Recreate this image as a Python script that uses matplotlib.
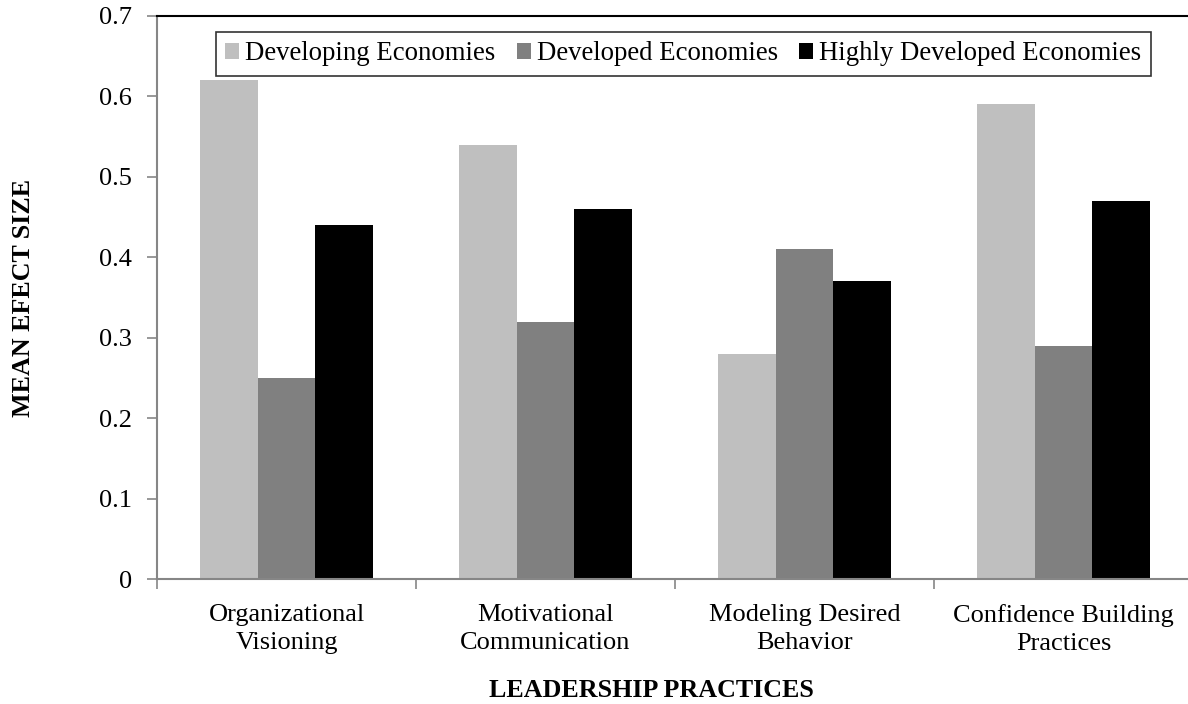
"""
Mean effect size of leadership practices by economy group.
"""

import matplotlib.pyplot as plt
import numpy as np
from matplotlib.ticker import FixedLocator, FuncFormatter, MultipleLocator

practices = [
    "Organizational\nVisioning",
    "Motivational\nCommunication",
    "Modeling Desired\nBehavior",
    "Confidence Building\nPractices",
]
series_names = [
    "Developing Economies",
    "Developed Economies",
    "Highly Developed Economies",
]
developing = [0.62, 0.54, 0.28, 0.59]
developed = [0.25, 0.32, 0.41, 0.29]
highly_developed = [0.44, 0.46, 0.37, 0.47]

colors = ["#BFBFBF", "#808080", "#000000"]
plt.rcParams["font.family"] = ["Liberation Serif", "DejaVu Serif"]

W, H = 1188, 704
fig = plt.figure(figsize=(W / 100, H / 100), dpi=100)
# plot area runs a little past the right edge of the picture, as in the original
left, right, top, bottom = 157, 1193, 16, 579
pw, ph = right - left, bottom - top
ax = fig.add_axes([left / W, 1 - bottom / H, pw / W, ph / H])

x = np.arange(len(practices))
width = 0.223
for i, (vals, name) in enumerate(zip([developing, developed, highly_developed], series_names)):
    ax.bar(x + (i - 1) * width, vals, width=width, color=colors[i], label=name, zorder=2)

ax.set_xlim(-0.5, len(practices) - 0.5)
ax.set_ylim(0, 0.7)
ax.yaxis.set_major_locator(MultipleLocator(0.1))
ax.yaxis.set_major_formatter(FuncFormatter(lambda v, p: "0" if abs(v) < 1e-9 else f"{v:.1f}"))

ax.set_xticks(x)
ax.set_xticklabels(practices, fontsize=19, linespacing=1.36)
ax.xaxis.set_minor_locator(FixedLocator(np.arange(-0.5, len(practices), 1.0)))
ax.tick_params(axis="x", which="major", length=0, pad=18)
ax.tick_params(axis="x", which="minor", length=7, width=1.2, color="#868686")
ax.tick_params(axis="y", length=7, width=1.2, color="#868686", labelsize=19, pad=11)

for side in ["left", "bottom"]:
    ax.spines[side].set_color("#868686")
    ax.spines[side].set_linewidth(1.5)
ax.spines["top"].set_color("black")
ax.spines["top"].set_linewidth(1.5)
ax.spines["right"].set_visible(False)

ax.set_ylabel("MEAN EFECT SIZE", fontsize=18.7, fontweight="bold")
ax.yaxis.set_label_coords((24 - left) / pw, 0.5)
ax.yaxis.label.set_va("center")
ax.set_xlabel("LEADERSHIP PRACTICES", fontsize=18.7, fontweight="bold")
ax.xaxis.set_label_coords((651 - left) / pw, -(697 - bottom) / ph)
ax.xaxis.label.set_va("baseline")

leg = ax.legend(
    loc="upper left",
    bbox_to_anchor=((216 - left) / pw, 1 - (32 - top) / ph),
    ncol=3,
    fontsize=19.3,
    frameon=True,
    fancybox=False,
    edgecolor="black",
    handlelength=0.52,
    handleheight=0.52,
    handletextpad=0.22,
    columnspacing=0.8,
    borderpad=0.35,
    borderaxespad=0,
)
leg.get_frame().set_linewidth(1.2)

fig.savefig("out.png", dpi=100)
